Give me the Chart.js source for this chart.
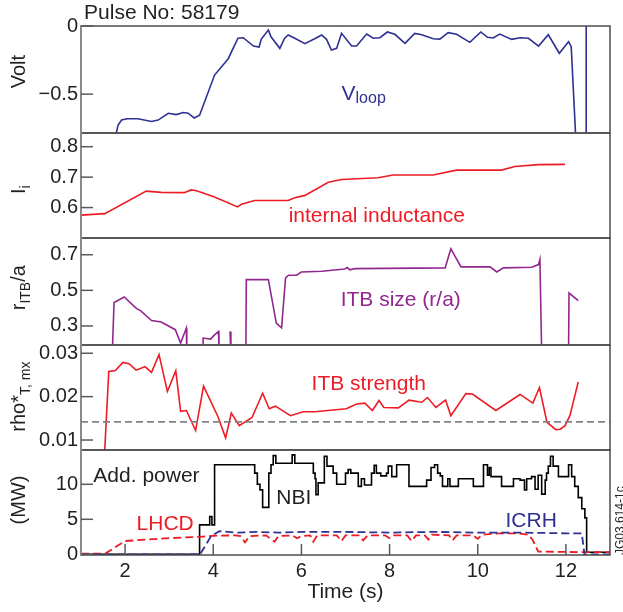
<!DOCTYPE html>
<html>
<head>
<meta charset="utf-8">
<script src="https://cdn.jsdelivr.net/npm/chart.js@4"></script>
<style>
  html, body { margin: 0; padding: 0; background: #fff; }
  #wrap { position: relative; width: 623px; height: 612px; }
  #wrap canvas { position: absolute; left: 0; top: 0; }
</style>
</head>
<body>
<div id="wrap">
  <canvas id="vloopChart" width="623" height="612"></canvas>
  <canvas id="liChart" width="623" height="612"></canvas>
  <canvas id="ritbChart" width="623" height="612"></canvas>
  <canvas id="rhoChart" width="623" height="612"></canvas>
  <canvas id="powerChart" width="623" height="612"></canvas>
</div>
<script>
// time (s), value pairs
const vloop = [[1.79,-0.80],[1.84,-0.728],[1.92,-0.69],[2.05,-0.68],[2.29,-0.68],[2.60,-0.70],[2.75,-0.69],[2.98,-0.64],
  [3.16,-0.65],[3.32,-0.635],[3.43,-0.64],[3.57,-0.675],[3.69,-0.655],[4.03,-0.36],[4.34,-0.24],[4.56,-0.09],[4.68,-0.086],
  [4.91,-0.147],[5.04,-0.154],[5.09,-0.096],[5.25,-0.03],[5.31,-0.079],[5.51,-0.164],[5.62,-0.09],[5.70,-0.066],[5.85,-0.09],
  [6.08,-0.13],[6.30,-0.094],[6.46,-0.066],[6.57,-0.098],[6.68,-0.176],[6.80,-0.164],[6.91,-0.054],[7.14,-0.147],[7.25,-0.147],
  [7.48,-0.059],[7.63,-0.09],[7.78,-0.086],[7.95,-0.044],[8.12,-0.061],[8.35,-0.127],[8.57,-0.054],[8.73,-0.064],[8.99,-0.093],
  [9.14,-0.096],[9.33,-0.049],[9.52,-0.061],[9.82,-0.12],[10.07,-0.044],[10.22,-0.083],[10.35,-0.088],[10.50,-0.059],
  [10.77,-0.098],[10.96,-0.086],[11.15,-0.09],[11.38,-0.147],[11.60,-0.064],[11.85,-0.2],[12.06,-0.115],[12.12,-0.152],
  [12.22,-0.80],[12.30,-1.2],[12.46,-1.2],[12.46,0.3]];

const inductance = [[1.0,0.575],[1.54,0.580],[2.48,0.654],[2.82,0.650],[3.34,0.649],[3.50,0.658],[3.62,0.655],[4.03,0.635],
  [4.55,0.602],[4.64,0.611],[4.94,0.623],[5.70,0.623],[5.85,0.632],[6.08,0.640],[6.61,0.683],[6.91,0.692],[7.74,0.698],
  [8.08,0.707],[8.99,0.707],[9.52,0.723],[10.54,0.723],[10.84,0.735],[11.38,0.741],[11.98,0.742]];

// null = no ITB found (line broken)
const itbSize = [[1.71,0.15],[1.75,0.432],[1.98,0.463],[2.26,0.397],[2.35,0.386],[2.60,0.33],[2.82,0.322],[3.14,0.279],
  [3.26,0.204],[3.39,0.288],[3.40,0.15],[3.6,null],[3.77,0.15],[3.77,0.232],[3.94,0.226],[4.03,0.25],[4.12,0.269],[4.13,0.15],
  [4.25,null],[4.38,0.269],[4.40,0.15],[4.6,null],[4.74,0.15],[4.75,0.56],[5.25,0.56],[5.43,0.316],[5.55,0.29],[5.64,0.57],
  [5.71,0.585],[5.89,0.585],[6.00,0.603],[6.46,0.607],[6.98,0.62],[7.04,0.628],[7.10,0.615],[7.21,0.622],[9.26,0.626],
  [9.39,0.733],[9.62,0.632],[10.28,0.632],[10.43,0.603],[10.58,0.626],[11.22,0.63],[11.38,0.645],[11.41,0.673],[11.45,0.15],
  [11.8,null],[12.06,0.15],[12.07,0.485],[12.28,0.442]];

const itbStrength = [[1.535,0.0070],[1.63,0.0258],[1.78,0.026],[1.95,0.0279],[2.09,0.0276],[2.25,0.0261],[2.45,0.0269],
  [2.60,0.0256],[2.77,0.0297],[2.96,0.0212],[3.15,0.026],[3.26,0.0166],[3.39,0.0168],[3.60,0.0122],[3.78,0.0224],[4.11,0.0153],
  [4.28,0.0105],[4.41,0.0162],[4.59,0.0133],[4.88,0.0152],[5.12,0.0208],[5.27,0.0172],[5.41,0.0178],[5.75,0.0156],[6.04,0.0165],
  [6.30,0.0165],[7.02,0.0172],[7.25,0.0183],[7.44,0.0185],[7.61,0.0168],[7.76,0.0191],[7.87,0.0175],[8.20,0.0174],[8.44,0.0192],
  [8.73,0.0187],[8.86,0.0198],[9.05,0.0175],[9.27,0.0192],[9.39,0.0156],[9.73,0.0207],[9.88,0.0206],[10.41,0.0168],[10.96,0.0205],
  [11.25,0.0185],[11.40,0.0221],[11.57,0.0141],[11.77,0.0124],[11.87,0.0125],[11.98,0.0133],[12.09,0.0156],[12.28,0.0234]];
const strengthThreshold = 0.0142;

// NBI is a step trace: each pair is where the level changes
const nbi = [[1.0,0],[3.69,4.2],[3.92,5.4],[3.97,4.2],[4.03,12.8],[4.94,11.6],[5.00,10.0],[5.06,9.2],[5.12,6.7],[5.26,11.6],
  [5.31,12.8],[5.36,14.1],[5.42,13.0],[5.79,14.2],[5.85,13.0],[6.27,11.6],[6.31,10.8],[6.33,8.5],[6.38,10.2],[6.52,14.0],
  [6.58,12.6],[6.72,11.6],[6.80,10.0],[7.00,11.6],[7.06,12.1],[7.12,11.6],[7.29,9.7],[7.36,10.8],[7.43,9.9],[7.59,11.6],
  [7.65,12.7],[7.70,11.6],[7.80,11.2],[7.93,11.6],[7.97,12.6],[8.05,11.1],[8.16,12.8],[8.44,9.7],[8.84,10.6],[8.94,12.4],
  [9.02,12.8],[9.09,11.6],[9.15,11.2],[9.20,9.7],[9.32,10.8],[9.37,9.7],[9.56,10.8],[9.90,9.7],[10.13,12.8],[10.22,11.3],
  [10.26,12.4],[10.30,11.1],[10.54,9.7],[10.81,10.8],[10.96,10.6],[11.06,9.2],[11.11,10.8],[11.22,11.1],[11.30,9.3],
  [11.37,11.3],[11.45,8.6],[11.53,10.6],[11.56,11.6],[11.60,12.6],[11.65,14.0],[11.71,12.6],[11.83,11.1],[12.06,12.8],
  [12.13,11.1],[12.20,9.7],[12.28,8.1],[12.36,6.5],[12.43,5.2],[12.47,0.3],[13.0,0.3]];

const lhcd = [[1.0,0.1],[1.55,0.1],[2.0,1.9],[2.5,2.1],[3.0,2.3],[3.7,2.5],[4.0,2.65],[4.5,2.7],[4.62,2.6],[4.72,1.7],
  [4.82,2.6],[5.2,2.7],[5.3,2.2],[5.39,1.8],[5.48,2.6],[5.8,2.7],[5.9,2.3],[6.0,2.6],[6.2,2.7],[6.27,1.8],[6.36,2.7],
  [6.8,2.7],[6.91,1.9],[7.0,2.7],[7.3,2.7],[7.40,2.0],[7.5,2.7],[7.9,2.7],[8.0,2.3],[8.1,2.7],[8.4,2.7],[8.50,1.9],[8.6,2.7],
  [8.8,2.7],[8.88,2.1],[8.96,2.8],[9.35,2.7],[9.43,2.0],[9.52,2.7],[9.9,2.7],[10.0,2.2],[10.1,2.8],[10.5,3.0],[10.9,3.0],
  [11.15,2.8],[11.25,2.0],[11.37,0.4],[12.4,0.3],[13.0,0.3]];

const icrh = [[1.0,0],[3.70,0],[3.80,1.0],[3.95,2.6],[4.14,3.3],[4.5,3.1],[5.0,3.2],[5.5,3.1],[6.0,3.2],[7.0,3.2],
  [8.0,3.1],[9.0,3.2],[10.0,3.1],[11.0,3.1],[12.0,3.0],[12.36,3.0],[12.42,0],[13.0,0]];

const timeTicks = [2, 4, 6, 8, 10, 12];
const vloopTicks = [-0.5, 0];
const inductanceTicks = [0.6, 0.7, 0.8];
const sizeTicks = [0.3, 0.5, 0.7];
const strengthTicks = [0.01, 0.02, 0.03];
const powerTicks = [0, 5, 10];

const FONT = "'Liberation Sans', Arial, Helvetica, sans-serif";
const TXT = '#231f20';
const BLUE = '#2e3192';
const RED = '#ed1c24';
const PURPLE = '#92278f';

const pts = pairs => pairs.map(([x, y]) => ({ x, y }));

// text with subscripts: parts = [[text, isSub], ...]
function drawRich(ctx, parts, x, y, size, color, opts = {}) {
  const subSize = opts.subSize || Math.round(size * 0.72);
  const shift = opts.shift != null ? opts.shift : size * 0.25;
  ctx.save();
  ctx.translate(x, y);
  if (opts.rotate) ctx.rotate(opts.rotate);
  ctx.fillStyle = color;
  ctx.textBaseline = 'alphabetic';
  ctx.textAlign = 'left';
  const widths = parts.map(([t, sub]) => {
    ctx.font = `${sub ? subSize : size}px ${FONT}`;
    return ctx.measureText(t).width;
  });
  let cx = opts.center ? -widths.reduce((a, b) => a + b, 0) / 2 : 0;
  parts.forEach(([t, sub], i) => {
    ctx.font = `${sub ? subSize : size}px ${FONT}`;
    ctx.fillText(t, cx, sub ? shift : 0);
    cx += widths[i];
  });
  ctx.restore();
}

function makeDeco(cfg) {
  return {
    id: 'deco',
    afterDraw(chart) {
      const { ctx, chartArea: a, scales: { x, y } } = chart;
      ctx.save();
      ctx.lineCap = 'butt';
      // frame
      ctx.strokeStyle = '#4d4d4f';
      ctx.lineWidth = 1.5;
      ctx.beginPath();
      ctx.moveTo(a.left, a.top); ctx.lineTo(a.right, a.top);
      ctx.lineTo(a.right, a.bottom); ctx.lineTo(a.left, a.bottom);
      ctx.stroke();
      ctx.strokeStyle = '#8a8a8c';
      ctx.lineWidth = 2;
      ctx.beginPath(); ctx.moveTo(a.left, a.top - 1); ctx.lineTo(a.left, a.bottom + 1); ctx.stroke();
      // inward tick marks
      ctx.strokeStyle = '#58595b';
      ctx.lineWidth = 1.5;
      y.ticks.forEach(t => {
        const py = y.getPixelForValue(t.value);
        ctx.beginPath(); ctx.moveTo(a.left, py); ctx.lineTo(a.left + 12, py); ctx.stroke();
      });
      if (cfg.showTime) {
        x.ticks.forEach(t => {
          const px = x.getPixelForValue(t.value);
          ctx.beginPath(); ctx.moveTo(px, a.bottom); ctx.lineTo(px, a.bottom - 11); ctx.stroke();
        });
      }
      // y title
      drawRich(ctx, cfg.yTitle, 25, y.getPixelForValue(cfg.yTitleAt), 20, TXT,
        { rotate: -Math.PI / 2, center: true, subSize: 14, shift: 5 });
      // in-panel labels
      cfg.notes.forEach(n => drawRich(ctx, n.parts, x.getPixelForValue(n.t), y.getPixelForValue(n.v),
        n.size || 21, n.color, { subSize: 16, shift: 3, rotate: n.rotate, center: n.center }));
      ctx.restore();
    }
  };
}

function makePanel(canvasId, cfg) {
  return new Chart(document.getElementById(canvasId), {
    type: 'line',
    data: { datasets: cfg.datasets },
    options: {
      responsive: false,
      animation: false,
      devicePixelRatio: 1,
      layout: { padding: { left: 0, right: 13, top: cfg.top, bottom: cfg.showTime ? 0 : 612 - cfg.bottom } },
      elements: { point: { radius: 0 }, line: { tension: 0, borderWidth: 1.6 } },
      plugins: { legend: { display: false }, tooltip: { enabled: false } },
      scales: {
        x: {
          type: 'linear',
          min: 1,
          max: 13,
          display: !!cfg.showTime,
          afterBuildTicks: s => { s.ticks = timeTicks.map(v => ({ value: v })); },
          afterFit: s => { if (cfg.showTime) s.height = 612 - cfg.bottom; },
          grid: { display: false, drawTicks: false },
          border: { display: false },
          ticks: { color: TXT, font: { family: FONT, size: 20 }, padding: 4, maxRotation: 0 },
          title: { display: true, text: 'Time (s)', color: TXT, font: { family: FONT, size: 21 }, padding: { top: 0, bottom: 7 } }
        },
        y: {
          min: cfg.yMin,
          max: cfg.yMax,
          afterBuildTicks: s => { s.ticks = cfg.ticks.map(v => ({ value: v })); },
          afterFit: s => { s.width = 81; },
          grid: { display: false, drawTicks: false },
          border: { display: false },
          ticks: {
            color: TXT,
            font: { family: FONT, size: 20 },
            padding: 3,
            callback: v => (v < 0 ? '\u2212' + Math.abs(v) : String(v))
          }
        }
      }
    },
    plugins: [makeDeco(cfg)]
  });
}

makePanel('vloopChart', {
  top: 26, bottom: 133, yMin: -0.785, yMax: 0, ticks: vloopTicks,
  yTitle: [['Volt']], yTitleAt: -0.335,
  datasets: [{ data: pts(vloop), borderColor: BLUE }],
  notes: [
    { parts: [['Pulse No: 58179']], t: 1.07, v: 0.048, color: TXT },
    { parts: [['V'], ['loop', true]], t: 6.91, v: -0.54, color: BLUE }
  ]
});

makePanel('liChart', {
  top: 133, bottom: 238, yMin: 0.5, yMax: 0.845, ticks: inductanceTicks,
  yTitle: [['I'], ['i', true]], yTitleAt: 0.659,
  datasets: [{ data: pts(inductance), borderColor: RED }],
  notes: [{ parts: [['internal inductance']], t: 5.71, v: 0.552, color: RED }]
});

makePanel('ritbChart', {
  top: 238, bottom: 345, yMin: 0.193, yMax: 0.794, ticks: sizeTicks,
  yTitle: [['r'], ['ITB', true], ['/a']], yTitleAt: 0.515,
  datasets: [{ data: pts(itbSize), borderColor: PURPLE, spanGaps: false }],
  notes: [{ parts: [['ITB size (r/a)']], t: 6.89, v: 0.41, color: PURPLE }]
});

makePanel('rhoChart', {
  top: 345, bottom: 450, yMin: 0.0077, yMax: 0.0319, ticks: strengthTicks,
  yTitle: [['rho*'], ['T, mx', true]], yTitleAt: 0.02,
  datasets: [
    { data: [{ x: 1, y: strengthThreshold }, { x: 13, y: strengthThreshold }], borderColor: '#808285', borderWidth: 1.8, borderDash: [7, 4] },
    { data: pts(itbStrength), borderColor: RED }
  ],
  notes: [{ parts: [['ITB strength']], t: 6.23, v: 0.0216, color: RED }]
});

makePanel('powerChart', {
  top: 450, bottom: 555, yMin: -0.1, yMax: 14.9, ticks: powerTicks, showTime: true,
  yTitle: [['(MW)']], yTitleAt: 7.76,
  datasets: [
    { data: pts(icrh), borderColor: BLUE, borderWidth: 1.8, borderDash: [8, 4] },
    { data: pts(lhcd), borderColor: RED, borderWidth: 1.8, borderDash: [8, 4] },
    { data: pts(nbi), borderColor: '#000000', stepped: 'before' }
  ],
  notes: [
    { parts: [['Add. power']], t: 1.28, v: 10.3, color: TXT },
    { parts: [['NBI']], t: 5.43, v: 7.2, color: TXT },
    { parts: [['LHCD']], t: 2.26, v: 3.5, color: RED },
    { parts: [['ICRH']], t: 10.63, v: 3.9, color: BLUE },
    { parts: [['JG03.614-1c']], t: 13.31, v: 4.8, color: TXT, size: 12, rotate: -Math.PI / 2, center: true }
  ]
});
</script>
</body>
</html>
